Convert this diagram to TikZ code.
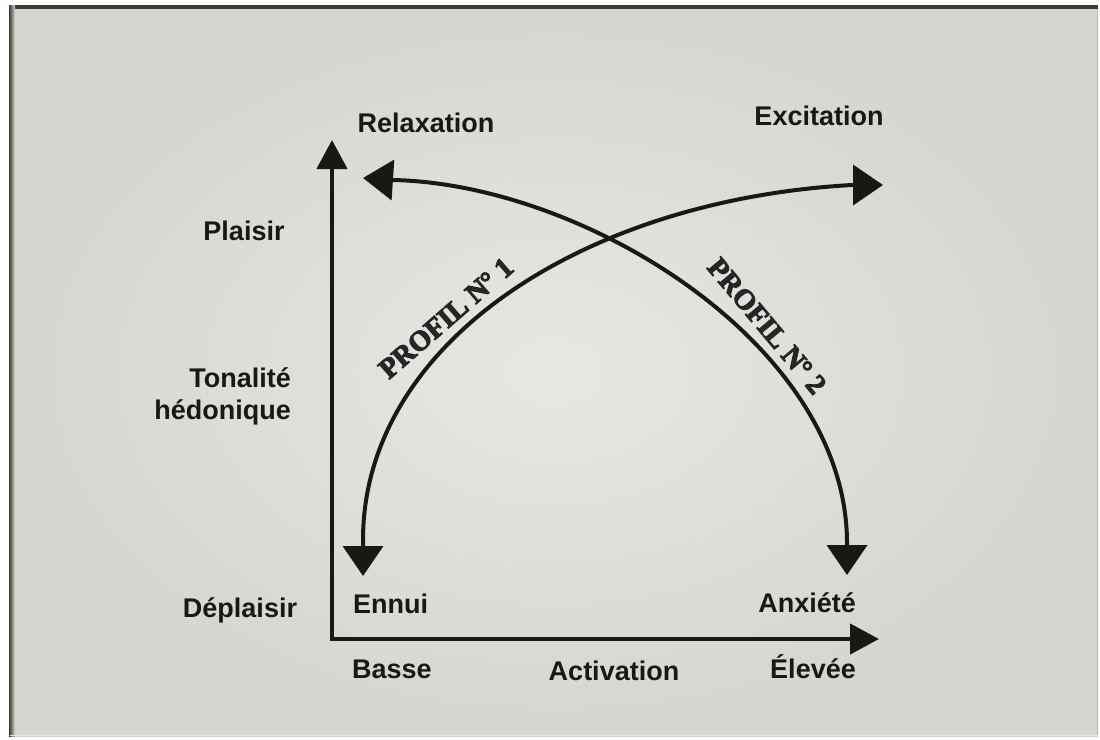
\documentclass[tikz,border=0pt]{standalone}
\usepackage{fontspec}
\setmainfont{Liberation Sans}
\newfontfamily\proffam{Liberation Serif}[BoldFeatures={FakeBold=3.5}]
\usetikzlibrary{arrows.meta}
\definecolor{bgin}{HTML}{E7E7E3}
\definecolor{bgout}{HTML}{D6D6D1}
\definecolor{framec}{HTML}{3D3830}
\definecolor{inkc}{HTML}{1A1815}
\definecolor{profc}{HTML}{262626}
\definecolor{edgec}{HTML}{EDE6D2}
\begin{document}
\begin{tikzpicture}[x=1pt,y=-1pt,
  lbl/.style={font=\bfseries\fontsize{27}{32}\selectfont, text=inkc, inner sep=0pt},
  prof/.style={font=\proffam\bfseries\fontsize{28.5}{32}\selectfont, text=profc, inner sep=0pt},
  axisline/.style={line width=4.5pt, draw=inkc, line join=miter,
    {Triangle[length=29pt,width=30pt]}-{Triangle[length=29pt,width=30pt]}},
  curveline/.style={line width=4pt, draw=inkc,
    {Triangle[length=30pt,width=40pt]}-{Triangle[length=30pt,width=40pt]}}]
% background and frame
\useasboundingbox (0,0) rectangle (1100,739);
\fill[white] (0,0) rectangle (1100,739);
\shade[inner color=bgin, outer color=bgout] (10,7) rectangle (1098,736);
\fill[framec] (10,5) rectangle (1098,9);
\shade[left color=framec, right color=bgout] (9,5) rectangle (15,736);
\draw[line width=1.5pt, edgec] (10,735.5) -- (1098,735.5);
\draw[line width=1pt, bgout!85!black] (1097.5,9) -- (1097.5,735);
% axes
\coordinate (O) at (332,639);
\coordinate (ytip) at (332,140);
\coordinate (xtip) at (879,639);
\draw[axisline] (ytip) -- (O) -- (xtip);
% profil 1 curve
\coordinate (ennuitip) at (363,576);
\coordinate (c1s) at (363,540);
\coordinate (c1e) at (852,185);
\coordinate (excittip) at (883,185);
\draw[curveline] (ennuitip) -- (c1s) .. controls (363,344) and (582,200) .. (c1e) -- (excittip);
% profil 2 curve
\coordinate (relaxtip) at (363,178);
\coordinate (c2s) at (393,180);
\coordinate (c2e) at (847,543);
\coordinate (anxtip) at (847,575);
\draw[curveline] (relaxtip) -- (c2s) .. controls (585,184) and (847,345) .. (c2e) -- (anxtip);
% labels
\node[lbl, anchor=base] (relax) at (426,132) {Relaxation};
\node[lbl, anchor=base] (excit) at (819,125) {Excitation};
\node[lbl, anchor=base] (plaisir) at (244,240) {Plaisir};
\node[lbl, anchor=base east] (tonal) at (291,387) {Tonalité};
\node[lbl, anchor=base east] (hedon) at (291,419) {hédonique};
\node[lbl, anchor=base] (deplaisir) at (240,617) {Déplaisir};
\node[lbl, anchor=base west] (ennui) at (353,613) {Ennui};
\node[lbl, anchor=base east] (anxiete) at (856,612) {Anxiété};
\node[lbl, anchor=base west] (basse) at (352,678) {Basse};
\node[lbl, anchor=base] (activ) at (614,680) {Activation};
\node[lbl, anchor=base east] (elevee) at (856,678) {Élevée};
\node[prof, rotate=41] (p1) at (446,318) {PROFIL N\kern-1pt° 1};
\node[prof, rotate=-50] (p2) at (767,326) {PROFIL N\kern-1pt° 2};
\end{tikzpicture}
\end{document}
